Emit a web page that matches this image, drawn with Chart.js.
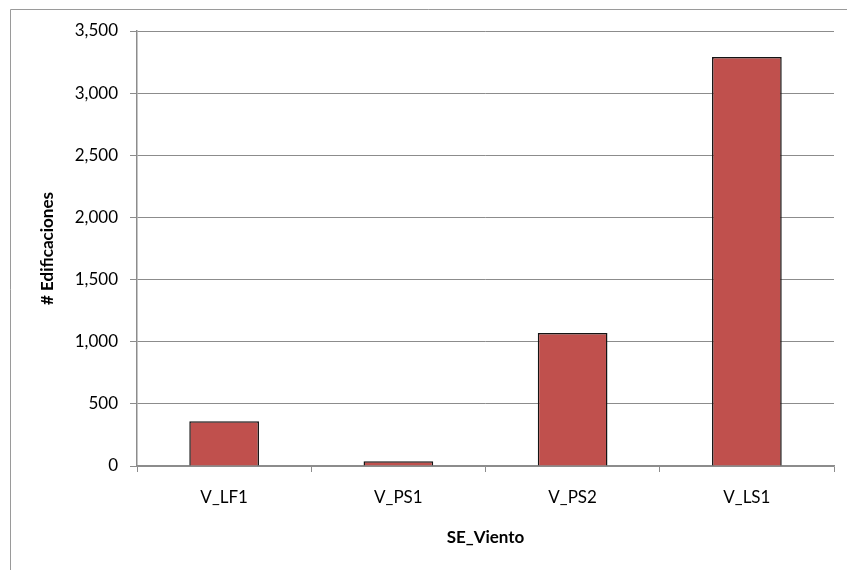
<!DOCTYPE html>
<html>
<head>
<meta charset="utf-8">
<title>Edificaciones por SE_Viento</title>
<script src="https://cdn.jsdelivr.net/npm/chart.js@4/dist/chart.umd.min.js"></script>
<style>
    html, body { margin: 0; padding: 0; background: #fff; }
    canvas { display: block; }
</style>
</head>
<body>
<canvas id="chart" width="847" height="570"></canvas>
<script>
const categories = ['V_LF1', 'V_PS1', 'V_PS2', 'V_LS1'];
const edificaciones = [360, 38, 1070, 3290];
const yTicks = [0, 500, 1000, 1500, 2000, 2500, 3000, 3500];

const FONT = "Lato, 'Open Sans', 'Liberation Sans', sans-serif";
const GRID = '#8c8c8c';
const BAR_FILL = '#c0504d';

// thin grey frame around the whole chart (only top and left show in the canvas)
const framePlugin = {
    id: 'frame',
    beforeDraw: (chart) => {
        const ctx = chart.ctx;
        ctx.save();
        ctx.fillStyle = '#ffffff';
        ctx.fillRect(0, 0, chart.width, chart.height);
        ctx.strokeStyle = '#9a9a9a';
        ctx.lineWidth = 1;
        ctx.beginPath();
        ctx.moveTo(10.5, chart.height);
        ctx.lineTo(10.5, 9.5);
        ctx.lineTo(chart.width, 9.5);
        ctx.stroke();
        ctx.restore();
    }
};

new Chart(document.getElementById('chart'), {
    type: 'bar',
    data: {
        labels: categories,
        datasets: [{
            label: '# Edificaciones',
            data: edificaciones,
            backgroundColor: BAR_FILL,
            borderColor: '#141414',
            borderWidth: 1.5,
            borderSkipped: 'start',
            categoryPercentage: 1,
            barPercentage: 0.4
        }]
    },
    options: {
        responsive: false,
        animation: false,
        layout: { padding: { left: 0, top: 31, right: 13, bottom: 0 } },
        plugins: {
            legend: { display: false },
            tooltip: { enabled: false }
        },
        scales: {
            x: {
                afterFit: (scale) => { scale.height = 104; },
                grid: {
                    offset: true,
                    drawOnChartArea: false,
                    drawTicks: true,
                    tickLength: 6,
                    color: GRID
                },
                border: { color: GRID, width: 1.5 },
                ticks: {
                    color: '#000',
                    padding: 15,
                    font: { family: FONT, size: 17 }
                },
                title: {
                    display: true,
                    text: 'SE_Viento',
                    color: '#000',
                    padding: { top: 0, bottom: 22 },
                    font: { family: FONT, size: 17, weight: 'bold' }
                }
            },
            y: {
                min: 0,
                max: 3500,
                afterFit: (scale) => { scale.width = 137; },
                afterBuildTicks: (scale) => {
                    scale.ticks = yTicks.map(v => ({ value: v }));
                },
                grid: {
                    color: GRID,
                    tickLength: 7,
                    lineWidth: 1
                },
                border: { color: GRID, width: 1.5 },
                ticks: {
                    color: '#000',
                    padding: 12,
                    font: { family: FONT, size: 17 },
                    callback: (v) => Number(v).toLocaleString('en-US')
                },
                title: {
                    display: true,
                    text: '# Edificaciones',
                    color: '#000',
                    padding: { top: 37, bottom: 0 },
                    font: { family: FONT, size: 17, weight: 'bold' }
                }
            }
        }
    },
    plugins: [framePlugin]
});
</script>
</body>
</html>
